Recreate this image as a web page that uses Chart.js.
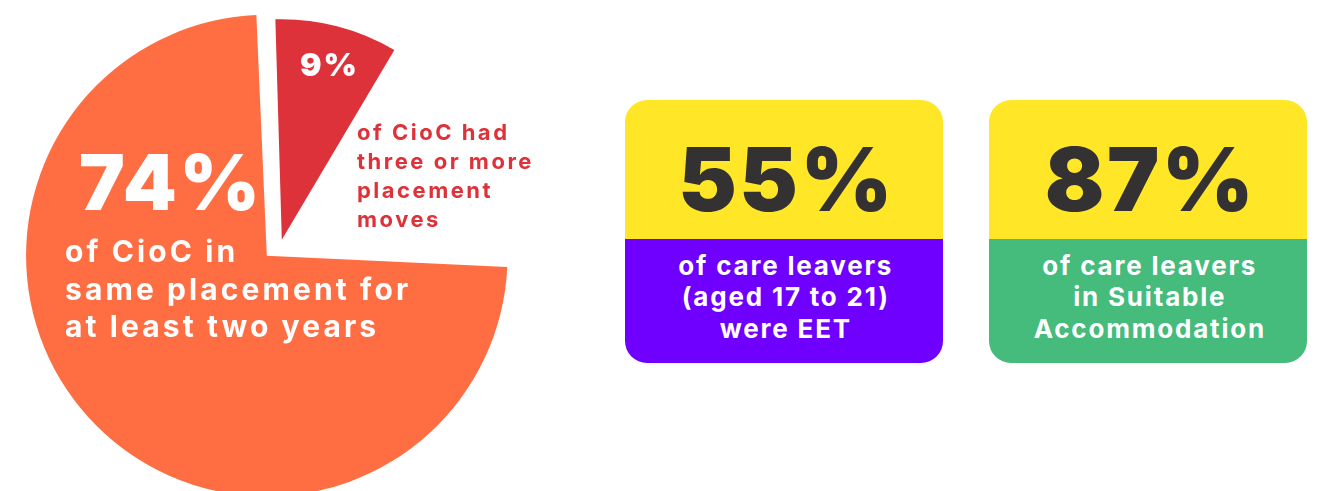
<!DOCTYPE html>
<html>
<head>
<meta charset="utf-8">
<script src="https://cdn.jsdelivr.net/npm/chart.js@4.4.1/dist/chart.umd.min.js"></script>
<style>
  html, body { margin: 0; padding: 0; background: #fff; }
  #page { position: relative; width: 1326px; height: 491px; overflow: hidden; font-family: Inter, sans-serif; }
  #pieBox { position: absolute; left: 0; top: 0; width: 563px; height: 491px; }
  .txt { position: absolute; white-space: nowrap; }
  .card { position: absolute; border-radius: 22px; overflow: hidden; }
  .card .top { position: absolute; left: 0; right: 0; top: 0; background: #ffe626; }
  .card .bottom { position: absolute; left: 0; right: 0; bottom: 0; }
</style>
</head>
<body>
<div id="page">
  <div id="pieBox"><canvas id="pie"></canvas></div>
</div>
<script>
// pie slices, clockwise from 12 o'clock (middle one is the empty gap)
const pieLabels = ['had three or more placement moves', 'other', 'in same placement for at least two years'];
const pieValues = [9, 17, 74];
const pieColors = ['#dd3239', 'rgba(0,0,0,0)', '#ff6e42'];
const pieOffsets = [5, 0, 83];

const pieBigText = ['9%', '74%'];
const redCaption = ['of CioC had', 'three or more', 'placement', 'moves'];
const orangeCaption = ['of CioC in', 'same placement for', 'at least two years'];

// stat cards
const cardValues = [55, 87];
const cardCaptions = [
  ['of care leavers', '(aged 17 to 21)', 'were EET'],
  ['of care leavers', 'in Suitable', 'Accommodation']
];
const cardColors = ['#6f00ff', '#45bb7c'];

const page = document.getElementById('page');

// puts a line of text with its baseline at y (Inter metrics)
function addText(parent, text, o) {
  const el = document.createElement('div');
  el.className = 'txt';
  el.textContent = text;
  el.style.fontSize = o.size + 'px';
  el.style.lineHeight = o.size + 'px';
  el.style.fontWeight = o.weight;
  el.style.color = o.color;
  el.style.letterSpacing = (o.ls || 0) + 'px';
  el.style.top = (o.y - 0.8635 * o.size) + 'px';
  el.style.left = o.x + 'px';
  if (o.width) {
    el.style.width = o.width + 'px';
    el.style.textAlign = 'center';
    el.style.paddingLeft = (o.ls || 0) + 'px';
  }
  parent.appendChild(el);
  return el;
}

new Chart(document.getElementById('pie'), {
  type: 'pie',
  data: {
    labels: pieLabels,
    datasets: [{
      data: pieValues,
      backgroundColor: pieColors,
      borderWidth: 0,
      offset: pieOffsets,
      hoverOffset: 0
    }]
  },
  options: {
    responsive: true,
    maintainAspectRatio: false,
    animation: false,
    events: [],
    radius: 220,
    rotation: -1.7,
    layout: { padding: { bottom: 9 } },
    plugins: {
      legend: { display: false },
      tooltip: { enabled: false }
    }
  }
});

// texts on and next to the pie
addText(page, pieBigText[0], { x: 300, y: 77, size: 32, weight: 900, color: '#fff', ls: 2 });
addText(page, pieBigText[1], { x: 79, y: 210, size: 77, weight: 900, color: '#fff', ls: 2.5 });
redCaption.forEach((t, i) => {
  addText(page, t, { x: 357, y: 140 + i * 29, size: 22, weight: 700, color: '#dd3239', ls: 2.5 });
});
orangeCaption.forEach((t, i) => {
  addText(page, t, { x: 65, y: 262 + i * 37.5, size: 30, weight: 700, color: '#fff', ls: 3.1 });
});

// cards
const cardLefts = [625, 989];
cardValues.forEach((v, k) => {
  const card = document.createElement('div');
  card.className = 'card';
  card.style.left = cardLefts[k] + 'px';
  card.style.top = '100px';
  card.style.width = '318px';
  card.style.height = '263px';
  const top = document.createElement('div');
  top.className = 'top';
  top.style.height = '139px';
  const bottom = document.createElement('div');
  bottom.className = 'bottom';
  bottom.style.top = '139px';
  bottom.style.background = cardColors[k];
  card.appendChild(top);
  card.appendChild(bottom);
  page.appendChild(card);
  addText(card, v + '%', { x: 0, y: 111, size: 88, weight: 900, color: '#333132', ls: 2.5, width: 318 });
  cardCaptions[k].forEach((t, i) => {
    addText(card, t, { x: 0, y: 175 + i * 31.5, size: 26, weight: 700, color: '#fff', ls: 1.8, width: 318 });
  });
});
</script>
</body>
</html>
